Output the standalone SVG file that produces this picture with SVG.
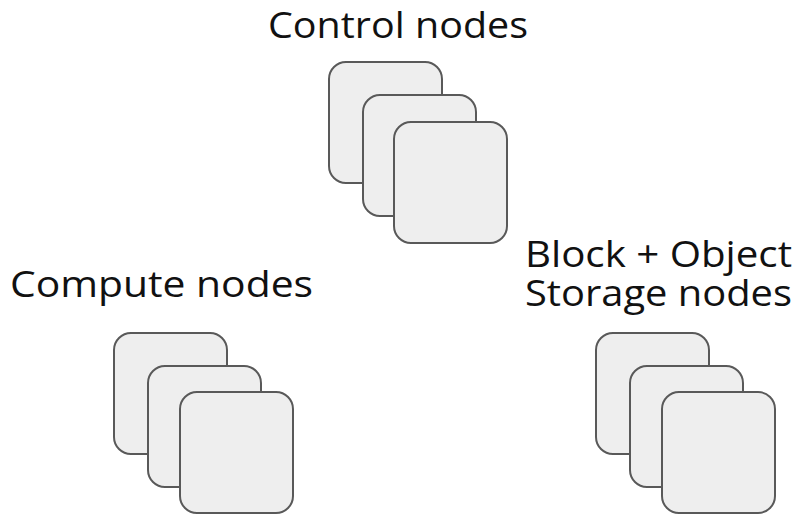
<svg xmlns="http://www.w3.org/2000/svg" width="800" height="514" viewBox="0 0 800 514">
  <style>
    .card { fill: #eeeeee; stroke: #595959; stroke-width: 2; }
    .lbl { font-family: "Open Sans", "Liberation Sans", sans-serif; font-size: 36px; fill: #111111; }
  </style>
  <defs>
    <rect id="card" class="card" width="113" height="121" rx="17" ry="17"/>
  </defs>
  <rect width="800" height="514" fill="#ffffff"/>
  <g id="control-nodes">
    <text class="lbl" x="268" y="37.5" textLength="260" lengthAdjust="spacingAndGlyphs">Control nodes</text>
    <use href="#card" x="329" y="62"/>
    <use href="#card" x="363" y="95"/>
    <use href="#card" x="394" y="122"/>
  </g>
  <g id="compute-nodes">
    <text class="lbl" x="10" y="297" textLength="303" lengthAdjust="spacingAndGlyphs">Compute nodes</text>
    <use href="#card" x="114" y="333"/>
    <use href="#card" x="148" y="366"/>
    <use href="#card" x="180" y="392"/>
  </g>
  <g id="storage-nodes">
    <text class="lbl" x="525" y="266.5" textLength="267" lengthAdjust="spacingAndGlyphs">Block + Object</text>
    <text class="lbl" x="525" y="306" textLength="267" lengthAdjust="spacingAndGlyphs">Storage nodes</text>
    <use href="#card" x="596" y="333"/>
    <use href="#card" x="630" y="366"/>
    <use href="#card" x="662" y="392"/>
  </g>
  <g id="connectors"/>
</svg>
